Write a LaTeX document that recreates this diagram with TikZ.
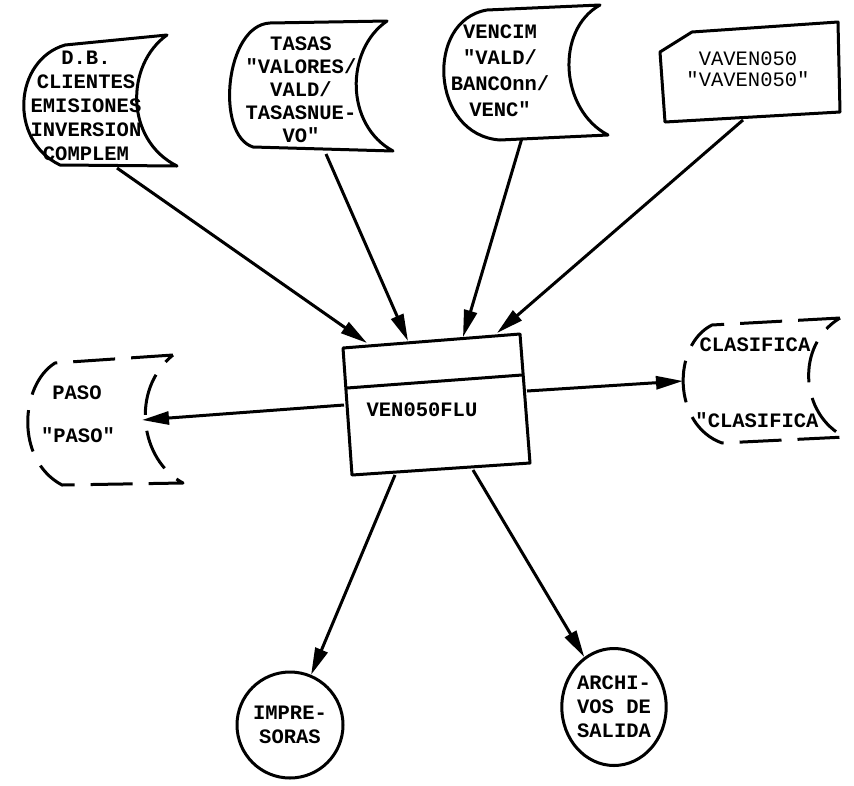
\documentclass[tikz,border=0pt]{standalone}
\usepackage{fontspec}
\setmonofont{Liberation Mono}
\usetikzlibrary{arrows.meta,shapes.geometric}
\begin{document}
\begin{tikzpicture}[x=1pt,y=-1pt,
  outline/.style={line width=3pt, line join=round},
  dashedline/.style={outline, dash pattern=on 42pt off 16pt},
  txt/.style={font=\ttfamily\bfseries\fontsize{20.5}{24}\selectfont, align=center, inner sep=0pt},
  flow/.style={line width=3pt, -{Triangle[length=27pt,width=13pt]}}]
\useasboundingbox (0,0) rectangle (854,785);

% --- input files (stored data symbols) ---
\draw[outline] (167,35) -- (65,45) .. controls (14,60) and (8,140) .. (60,165)
  -- (177,166) .. controls (125,140) and (125,65) .. (167,35) -- cycle;
\node[txt] (db) at (86,106) {D.B.\\CLIENTES\\EMISIONES\\INVERSION\\COMPLEM};

\draw[outline] (387,21) -- (270,23) .. controls (225,25) and (215,135) .. (253,147)
  -- (393,151) .. controls (345,125) and (345,50) .. (387,21) -- cycle;
\node[txt, font=\ttfamily\bfseries\fontsize{20.5}{23}\selectfont] (tasas) at (301,90)
  {TASAS\\"VALORES/\\VALD/\\TASASNUE-\\VO"};

\draw[outline] (600,5) -- (487,10) .. controls (425,20) and (430,135) .. (500,140)
  -- (608,135) .. controls (560,110) and (555,30) .. (600,5) -- cycle;
\node[txt, font=\ttfamily\bfseries\fontsize{20.5}{26}\selectfont] (vencim) at (500,71)
  {VENCIM\\"VALD/\\BANCOnn/\\VENC"};

% --- card ---
\draw[outline] (660,52) -- (692,32) -- (838,22) -- (840,112) -- (665,122) -- cycle;
\node[txt, font=\ttfamily\fontsize{20.5}{21}\selectfont] (vaven) at (748,69)
  {VAVEN050\\"VAVEN050"};

% --- program box ---
\draw[outline] (343,348) -- (520,334) -- (530,463) -- (352,475) -- cycle;
\draw[outline] (347,388) -- (522,375);
\node[txt] (prog) at (422,410) {VEN050FLU};

% --- output files (dashed) ---
\draw[dashedline] (173,355) -- (55,363) .. controls (20,385) and (15,460) .. (62,485)
  -- (183,483) .. controls (140,460) and (130,390) .. (173,355) -- cycle;
\node[txt] (paso1) at (77,393) {PASO};
\node[txt] (paso2) at (78,435) {"PASO"};

\draw[dashedline] (840,318) -- (712,325) .. controls (672,345) and (672,425) .. (722,443)
  -- (845,437) .. controls (800,415) and (795,345) .. (840,318) -- cycle;
\node[txt] (clas1) at (755,345) {CLASIFICA};
\node[txt] (clas2) at (757,420) {"CLASIFICA};

% --- connector end points ---
\coordinate (db-out) at (117,168);
\coordinate (tasas-out) at (326,154);
\coordinate (vencim-out) at (522,138);
\coordinate (vaven-out) at (743,120);
\coordinate (in-a) at (367,343);
\coordinate (in-b) at (408,341);
\coordinate (in-c) at (463,337);
\coordinate (in-d) at (497,333);
\coordinate (out-left) at (344,405);
\coordinate (out-right) at (527,391);
\coordinate (out-down1) at (395,475);
\coordinate (out-down2) at (473,470);
\coordinate (paso-in) at (142,420);
\coordinate (clas-in) at (683,381);

% --- output devices ---
\node[txt, circle, draw, line width=3pt, minimum size=106pt] (impr) at (290,725) {IMPRE-\\SORAS};
\node[txt, ellipse, draw, line width=3pt, minimum width=101pt, minimum height=117pt] (arch) at (614,707)
  {ARCHI-\\VOS DE\\SALIDA};

\draw[flow] (db-out) -- (in-a);
\draw[flow] (tasas-out) -- (in-b);
\draw[flow] (vencim-out) -- (in-c);
\draw[flow] (vaven-out) -- (in-d);
\draw[flow] (out-left) -- (paso-in);
\draw[flow] (out-right) -- (clas-in);
\draw[flow] (out-down1) -- (impr);
\draw[flow] (out-down2) -- (arch);
\end{tikzpicture}
\end{document}
